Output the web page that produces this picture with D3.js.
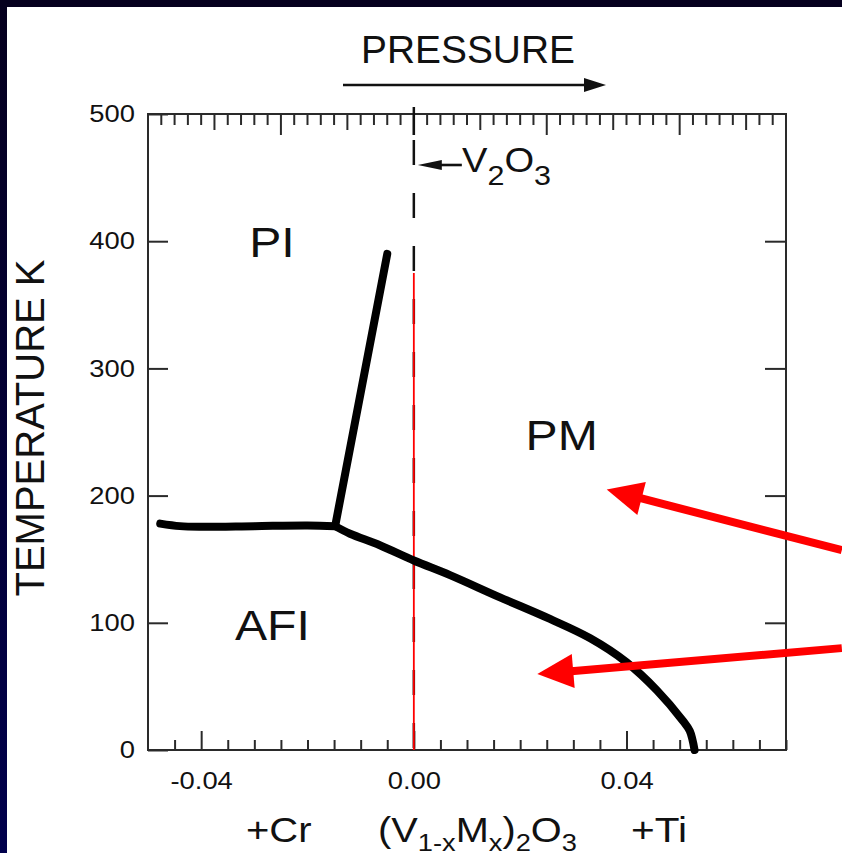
<!DOCTYPE html>
<html>
<head>
<meta charset="utf-8">
<script src="https://cdn.jsdelivr.net/npm/d3@7/dist/d3.min.js"></script>
<style>
  html, body { margin: 0; padding: 0; background: #fff; }
  svg { display: block; }
  text { font-family: "Liberation Sans", Arial, Helvetica, sans-serif; fill: #111; }
</style>
</head>
<body>
<div id="chart"></div>
<script>
// Phase diagram of (V1-xMx)2O3: temperature vs. doping x (Cr < 0 < Ti)
const xDomain = [-0.05, 0.07];
const yDomain = [0, 500];
const xTickValues = [-0.04, 0.00, 0.04];
const xTickLabels = ["-0.04", "0.00", "0.04"];
const yTickValues = [0, 100, 200, 300, 400, 500];
const yTickLabels = ["0", "100", "200", "300", "400", "500"];

// Phase boundaries [x, T(K)]
const afiPiBoundary = [[-0.0477, 178], [-0.044, 176], [-0.04, 175.5], [-0.03, 176], [-0.02, 176.5], [-0.0148, 176]];
const piPmBoundary = [[-0.0148, 176], [-0.005, 390]];
const mitBoundary = [[-0.0148, 176], [-0.012, 170], [-0.0064, 161], [0, 149], [0.0068, 137.5], [0.0162, 120],
                     [0.0256, 103], [0.0331, 88], [0.04, 69], [0.0457, 47], [0.0506, 23], [0.0519, 15], [0.0528, 0]];

// Pure V2O3 reference composition
const v2o3X = 0;
const redMarkerTop = 375;

// Region labels [label, x, T]
const regionLabels = [["PI", -0.0267, 387.4], ["PM", 0.0278, 235.7], ["AFI", -0.0266, 86.4]];

// Highlight arrows: [fromX, fromT, toX, toT]
const pointerArrows = [[0.0805, 157.1, 0.03628, 204.8], [0.0805, 80.1, 0.02323, 59.7]];

const W = 842, H = 853;
const margin = { left: 148, right: 56, top: 114, bottom: 103 };
const FONT = "'Liberation Sans', Arial, Helvetica, sans-serif";
const TEXT_SX = 1.14;

const svg = d3.select("#chart").append("svg")
  .attr("width", W).attr("height", H);

const defs = svg.append("defs");
const grad = defs.append("linearGradient").attr("id", "frameGrad")
  .attr("x1", 0).attr("y1", 0).attr("x2", 0).attr("y2", 1);
grad.append("stop").attr("offset", 0).attr("stop-color", "#05001e");
grad.append("stop").attr("offset", 1).attr("stop-color", "#00004c");

svg.append("rect").attr("width", W).attr("height", H).attr("fill", "url(#frameGrad)");
svg.append("rect").attr("x", 7).attr("y", 7).attr("width", W - 7).attr("height", H - 7).attr("fill", "#fff");

const x = d3.scaleLinear().domain(xDomain).range([margin.left, W - margin.right]);
const y = d3.scaleLinear().domain(yDomain).range([H - margin.bottom, margin.top]);

const axisColor = "#2a2a2a";

// place a text so that its box spans [left, right] with the given baseline
function fitText(sel, left, right, baseline) {
  sel.attr("x", 0).attr("y", 0);
  const bb = sel.node().getBBox();
  const sx = (right - left) / bb.width;
  sel.attr("transform", `translate(${left - bb.x * sx},${baseline}) scale(${sx},1)`);
}

function styleAxis(g) {
  g.select(".domain").remove();
  g.selectAll(".tick line").attr("stroke", axisColor).attr("stroke-width", 2);
  g.selectAll(".tick text").attr("font-size", 24).attr("fill", "#111")
    .style("font-family", FONT)
    .each(function () {
      const t = d3.select(this);
      const tx = +t.attr("x") || 0;
      t.attr("x", 0).attr("transform", `translate(${tx},0) scale(${TEXT_SX},1)`);
    });
}

// plot frame
svg.append("rect")
  .attr("x", x(xDomain[0])).attr("y", y(yDomain[1]))
  .attr("width", x(xDomain[1]) - x(xDomain[0])).attr("height", y(yDomain[0]) - y(yDomain[1]))
  .attr("fill", "none").attr("stroke", axisColor).attr("stroke-width", 2);

// bottom axis: minor ticks every 0.005, labelled majors every 0.04
const bottomMinor = d3.range(-0.045, 0.0701, 0.005).filter(v => !xTickValues.some(t => Math.abs(t - v) < 1e-6));
svg.append("g").attr("transform", `translate(0,${y(0)})`)
  .call(d3.axisBottom(x).tickValues(bottomMinor).tickSize(-10).tickFormat(""))
  .call(styleAxis);
svg.append("g").attr("transform", `translate(0,${y(0)})`)
  .call(d3.axisBottom(x).tickValues(xTickValues).tickSize(-19)
    .tickFormat((d, i) => xTickLabels[i]).tickPadding(22))
  .call(styleAxis);

// top axis: fine ticks every 0.0025, longer every 0.0125 and 0.025
const topTicks = d3.range(-0.0475, 0.0701, 0.0025).map(v => +v.toFixed(4));
const topLen = v => {
  const k = Math.round(v / 0.0125);
  if (Math.abs(v - k * 0.0125) > 1e-6) return 11;
  return (k % 2 === 0) ? 21 : 16;
};
svg.append("g").attr("transform", `translate(0,${y(500)})`)
  .selectAll("line").data(topTicks).join("line")
  .attr("x1", d => x(d)).attr("x2", d => x(d))
  .attr("y1", 0).attr("y2", d => topLen(d))
  .attr("stroke", axisColor).attr("stroke-width", 2);

// left & right axes
svg.append("g").attr("transform", `translate(${x(xDomain[0])},0)`)
  .call(d3.axisLeft(y).tickValues(yTickValues).tickSize(-20)
    .tickFormat((d, i) => yTickLabels[i]).tickPadding(13))
  .call(styleAxis);
svg.append("g").attr("transform", `translate(${x(xDomain[1])},0)`)
  .call(d3.axisRight(y).tickValues(yTickValues.slice(1, -1)).tickSize(-21).tickFormat(""))
  .call(styleAxis);

// dashed reference line for V2O3 (first segment rises above the frame)
const x0 = x(v2o3X);
svg.append("line").attr("x1", x0).attr("x2", x0)
  .attr("y1", y(500) - 7).attr("y2", y(500) + 21)
  .attr("stroke", "#111").attr("stroke-width", 2.5);
svg.append("line").attr("x1", x0).attr("x2", x0)
  .attr("y1", y(500) + 26).attr("y2", y(0))
  .attr("stroke", "#111").attr("stroke-width", 2.5)
  .attr("stroke-dasharray", "25,28");
svg.append("line").attr("x1", x0).attr("x2", x0)
  .attr("y1", y(redMarkerTop)).attr("y2", y(0))
  .attr("stroke", "#ff0000").attr("stroke-width", 1.8);

// phase boundaries
const line = d3.line().x(d => x(d[0])).y(d => y(d[1])).curve(d3.curveCatmullRom.alpha(0.5));
[afiPiBoundary, piPmBoundary, mitBoundary].forEach(b => {
  svg.append("path").datum(b).attr("d", line)
    .attr("fill", "none").attr("stroke", "#000").attr("stroke-width", 8)
    .attr("stroke-linecap", "round").attr("stroke-linejoin", "round");
});

// region labels
svg.selectAll(".region").data(regionLabels).join("text")
  .attr("class", "region")
  .attr("x", 0).attr("y", 0)
  .attr("text-anchor", "middle").attr("font-size", 43)
  .attr("transform", d => `translate(${x(d[1])},${y(d[2])}) scale(${TEXT_SX - 0.02},1)`)
  .text(d => d[0]);

// V2O3 marker: small arrow pointing at the dashed line, then the formula
const v2y = 165;
const tipX = x0 + 4;
svg.append("line").attr("x1", tipX + 20).attr("x2", tipX + 44).attr("y1", v2y).attr("y2", v2y)
  .attr("stroke", "#111").attr("stroke-width", 2.6);
svg.append("path")
  .attr("d", `M${tipX},${v2y} L${tipX + 24},${v2y - 5} L${tipX + 24},${v2y + 5} Z`)
  .attr("fill", "#111");
const v2t = svg.append("text").attr("font-size", 35);
v2t.append("tspan").text("V");
v2t.append("tspan").attr("font-size", 28).attr("dy", 13).text("2");
v2t.append("tspan").attr("dy", -13).text("O");
v2t.append("tspan").attr("font-size", 28).attr("dy", 13).text("3");
fitText(v2t, 462, 551, 172);

// axis titles
svg.append("text")
  .attr("transform", `translate(44,428) rotate(-90)`)
  .attr("text-anchor", "middle").attr("font-size", 40)
  .text("TEMPERATURE K");

const pt = svg.append("text").attr("font-size", 38).text("PRESSURE");
fitText(pt, 361, 575, 63);

svg.append("line").attr("x1", 343).attr("x2", 588).attr("y1", 85).attr("y2", 85)
  .attr("stroke", "#111").attr("stroke-width", 2.5);
svg.append("path").attr("d", "M606,85 L584,78 L584,92 Z").attr("fill", "#111");

// bottom composition labels
const baseY = 842;
const cr = svg.append("text").attr("font-size", 35).text("+Cr");
fitText(cr, 246, 312, baseY);
const ti = svg.append("text").attr("font-size", 35).text("+Ti");
fitText(ti, 631, 687, baseY);
const f = svg.append("text").attr("font-size", 35);
f.append("tspan").text("(V");
f.append("tspan").attr("font-size", 24).attr("dy", 9).text("1-x");
f.append("tspan").attr("dy", -9).text("M");
f.append("tspan").attr("font-size", 24).attr("dy", 9).text("x");
f.append("tspan").attr("dy", -9).text(")");
f.append("tspan").attr("font-size", 24).attr("dy", 9).text("2");
f.append("tspan").attr("dy", -9).text("O");
f.append("tspan").attr("font-size", 24).attr("dy", 9).text("3");
fitText(f, 378, 577, baseY);

// red pointer arrows: thick shaft plus a triangular head ending at the target
const headLen = 36, headHalf = 17;
pointerArrows.forEach(a => {
  const x1 = x(a[0]), y1 = y(a[1]), x2 = x(a[2]), y2 = y(a[3]);
  const len = Math.hypot(x2 - x1, y2 - y1);
  const ux = (x2 - x1) / len, uy = (y2 - y1) / len;
  const bx = x2 - ux * headLen, by = y2 - uy * headLen;
  svg.append("line").attr("x1", x1).attr("y1", y1).attr("x2", bx + ux * 2).attr("y2", by + uy * 2)
    .attr("stroke", "#ff0000").attr("stroke-width", 8);
  svg.append("path")
    .attr("d", `M${x2},${y2} L${bx - uy * headHalf},${by + ux * headHalf} L${bx + uy * headHalf},${by - ux * headHalf} Z`)
    .attr("fill", "#ff0000");
});
</script>
</body>
</html>
